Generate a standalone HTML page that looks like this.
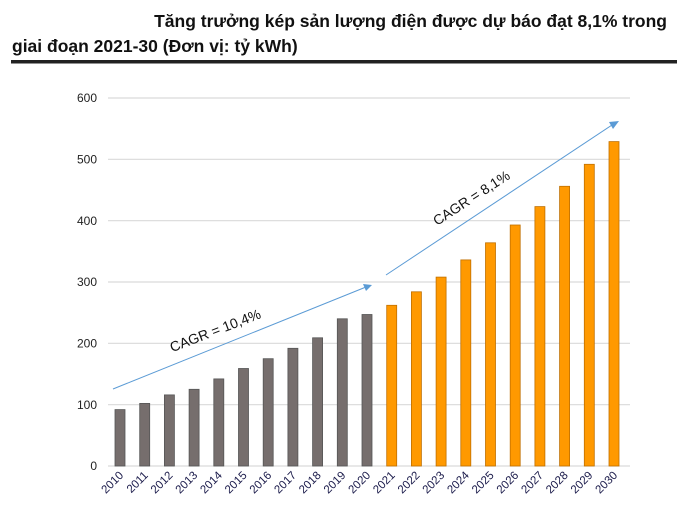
<!DOCTYPE html>
<html><head><meta charset="utf-8"><style>
body{margin:0;background:#fff;width:677px;height:521px;overflow:hidden;font-family:"Liberation Sans",Arial,sans-serif}
</style></head><body>
<svg width="677" height="521" xmlns="http://www.w3.org/2000/svg" font-family="Liberation Sans, Arial, sans-serif">
<text x="667" y="27" text-anchor="end" font-size="17.5" font-weight="bold" fill="#111">Tăng trưởng kép sản lượng điện được dự báo đạt 8,1% trong</text>
<text x="12" y="52" font-size="17.5" font-weight="bold" fill="#111">giai đoạn 2021-30 (Đơn vị: tỷ kWh)</text>
<rect x="11" y="60" width="666" height="3.5" fill="#222"/>
<g stroke="#d9d9d9" stroke-width="1.2">
<line x1="108" x2="630" y1="98" y2="98"/><line x1="108" x2="630" y1="159.3" y2="159.3"/>
<line x1="108" x2="630" y1="220.7" y2="220.7"/><line x1="108" x2="630" y1="282" y2="282"/>
<line x1="108" x2="630" y1="343.3" y2="343.3"/><line x1="108" x2="630" y1="404.7" y2="404.7"/>
<line x1="108" x2="630" y1="466" y2="466"/></g>
<g font-size="12" fill="#222" text-anchor="end">
<text x="97" y="102">600</text><text x="97" y="163.5">500</text><text x="97" y="225">400</text>
<text x="97" y="286">300</text><text x="97" y="347.5">200</text><text x="97" y="409">100</text><text x="97" y="470">0</text></g>
<g fill="#766e6d" stroke="#555" stroke-width="0.8">
<rect x="115" y="409.6" width="10" height="56.4"/>
<rect x="139.7" y="403.4" width="10" height="62.6"/>
<rect x="164.4" y="394.9" width="10" height="71.1"/>
<rect x="189.1" y="389.3" width="10" height="76.7"/>
<rect x="213.8" y="378.9" width="10" height="87.1"/>
<rect x="238.5" y="368.5" width="10" height="97.5"/>
<rect x="263.2" y="358.7" width="10" height="107.3"/>
<rect x="287.9" y="348.3" width="10" height="117.7"/>
<rect x="312.6" y="337.8" width="10" height="128.2"/>
<rect x="337.3" y="318.8" width="10" height="147.2"/>
<rect x="362" y="314.5" width="10" height="151.5"/>
</g>
<g fill="#ff9900" stroke="#c07000" stroke-width="0.8">
<rect x="386.7" y="305.3" width="10" height="160.7"/>
<rect x="411.4" y="291.8" width="10" height="174.2"/>
<rect x="436.1" y="277.1" width="10" height="188.9"/>
<rect x="460.8" y="259.9" width="10" height="206.1"/>
<rect x="485.5" y="242.8" width="10" height="223.2"/>
<rect x="510.2" y="225" width="10" height="241"/>
<rect x="534.9" y="206.6" width="10" height="259.4"/>
<rect x="559.6" y="186.3" width="10" height="279.7"/>
<rect x="584.3" y="164.3" width="10" height="301.7"/>
<rect x="609" y="141.6" width="10" height="324.4"/>
</g>
<g font-size="11.5" fill="#1a1a4a" text-anchor="end">
<text transform="translate(124,476) rotate(-45)">2010</text>
<text transform="translate(148.7,476) rotate(-45)">2011</text>
<text transform="translate(173.4,476) rotate(-45)">2012</text>
<text transform="translate(198.1,476) rotate(-45)">2013</text>
<text transform="translate(222.8,476) rotate(-45)">2014</text>
<text transform="translate(247.5,476) rotate(-45)">2015</text>
<text transform="translate(272.2,476) rotate(-45)">2016</text>
<text transform="translate(296.9,476) rotate(-45)">2017</text>
<text transform="translate(321.6,476) rotate(-45)">2018</text>
<text transform="translate(346.3,476) rotate(-45)">2019</text>
<text transform="translate(371,476) rotate(-45)">2020</text>
<text transform="translate(395.7,476) rotate(-45)">2021</text>
<text transform="translate(420.4,476) rotate(-45)">2022</text>
<text transform="translate(445.1,476) rotate(-45)">2023</text>
<text transform="translate(469.8,476) rotate(-45)">2024</text>
<text transform="translate(494.5,476) rotate(-45)">2025</text>
<text transform="translate(519.2,476) rotate(-45)">2026</text>
<text transform="translate(543.9,476) rotate(-45)">2027</text>
<text transform="translate(568.6,476) rotate(-45)">2028</text>
<text transform="translate(593.3,476) rotate(-45)">2029</text>
<text transform="translate(618,476) rotate(-45)">2030</text>
</g>
<line x1="113" y1="389" x2="366" y2="287" stroke="#5b9bd5" stroke-width="1"/>
<polygon points="372,285 363,284 366,291" fill="#5b9bd5"/>
<line x1="386" y1="275" x2="612" y2="125" stroke="#5b9bd5" stroke-width="1"/>
<polygon points="619,121 609,122 613,129" fill="#5b9bd5"/>
<text x="217" y="335" font-size="14" fill="#111" text-anchor="middle" transform="rotate(-21 217 335)">CAGR = 10,4%</text>
<text x="474" y="202" font-size="14" fill="#111" text-anchor="middle" transform="rotate(-33 474 202)">CAGR = 8,1%</text>
</svg></body></html>
